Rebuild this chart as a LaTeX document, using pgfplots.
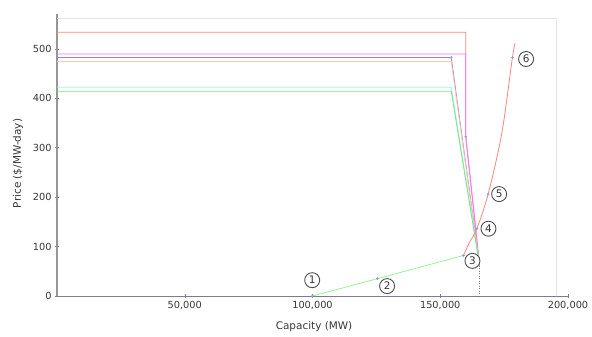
\documentclass[border=0pt]{standalone}
\usepackage{fontspec}
\setmainfont{DejaVu Sans}
\usepackage{pgfplots}
\pgfplotsset{compat=1.18}
\definecolor{cred}{RGB}{255,130,130}
\definecolor{cmag}{RGB}{255,110,255}
\definecolor{cblue}{RGB}{135,135,245}
\definecolor{corange}{RGB}{255,200,160}
\definecolor{ccyan}{RGB}{150,245,250}
\definecolor{cgreen}{RGB}{120,230,120}
\definecolor{cvrr}{RGB}{150,240,150}
\definecolor{cmark}{RGB}{150,160,205}
\definecolor{ctext}{RGB}{55,55,55}
\begin{document}
\begin{tikzpicture}
\begin{axis}[
  scale only axis,
  width=511bp, height=282bp,
  xmin=0, xmax=200000, ymin=0, ymax=570,
  axis x line=bottom, axis y line=left,
  x axis line style={-, draw={rgb,255:red,120;green,125;blue,150}, line width=1pt},
  y axis line style={-, draw={rgb,255:red,150;green,150;blue,150}, line width=1.5pt},
  xtick={50000,100000,150000,200000},
  ytick={0,100,200,300,400,500},
  scaled x ticks=false,
  xticklabel style={/pgf/number format/.cd,fixed,1000 sep={,}},
  /pgf/number format/assume math mode=true,
  tick align=center,
  major tick length=4bp,
  tick style={draw={rgb,255:red,120;green,125;blue,150}},
  tick label style={font=\fontsize{9.8}{11}\selectfont, text=ctext},
  label style={font=\fontsize{10.5}{12}\selectfont, text=ctext},
  xlabel={Capacity (MW)},
  ylabel={Price (\$/MW-day)},
  xlabel style={at={(axis description cs:0.503,-0.11)},anchor=center},
  ylabel style={at={(axis description cs:-0.0763,0.47)},anchor=center},
  clip=false,
]
% light frame
\addplot[draw=black!10, line width=0.5pt] coordinates {(0,561) (195300,561) (195300,0)};
% supply curves
\addplot[cred, line width=0.8pt] coordinates {(0,533) (160000,533) (160000,322) (165400,62)};
\addplot[cmag, line width=0.8pt] coordinates {(0,489) (160000,489) (160000,322) (165400,62)};
\addplot[cblue, line width=0.8pt] coordinates {(0,482) (154300,482) (165400,62)};
\addplot[corange, line width=0.8pt] coordinates {(0,474) (154300,474) (165400,62)};
\addplot[ccyan, line width=0.8pt] coordinates {(0,422) (154300,422) (165400,62)};
\addplot[cgreen, line width=0.8pt] coordinates {(0,414) (154300,414) (165400,62)};
% dotted
\addplot[black!55, dotted, line width=0.5pt] coordinates {(165400,0) (165400,62)};
% VRR curve
\addplot[cvrr, line width=0.8pt] coordinates {(100000,0) (125400,35) (159100,82)};
\addplot[cred, line width=0.8pt, smooth, tension=0.5] coordinates {(159100,82) (161300,107) (164300,136) (168750,206) (174100,329) (178250,482) (179300,511)};
% markers
\addplot[only marks, mark=*, mark size=1.1pt, color=cmark] coordinates {(100000,0) (125400,35) (159100,82) (164300,136) (168750,206) (178250,482) (154300,482) (160000,322)};
% labels
\tikzset{lbl/.style={circle, draw=black!70, line width=0.9pt, fill=white, inner sep=0pt, minimum size=15bp, font=\fontsize{10.5}{12}\selectfont, text=ctext}}
\node[lbl] at (axis cs:99880,32) {1};
\node[lbl] at (axis cs:129200,20) {2};
\node[lbl] at (axis cs:162600,71) {3};
\node[lbl] at (axis cs:168870,136) {4};
\node[lbl] at (axis cs:173050,206) {5};
\node[lbl] at (axis cs:183600,479) {6};
\end{axis}
\pgfresetboundingbox
\path[use as bounding box] (-57bp,-41bp) rectangle (535bp,296bp);
\end{tikzpicture}
\end{document}
